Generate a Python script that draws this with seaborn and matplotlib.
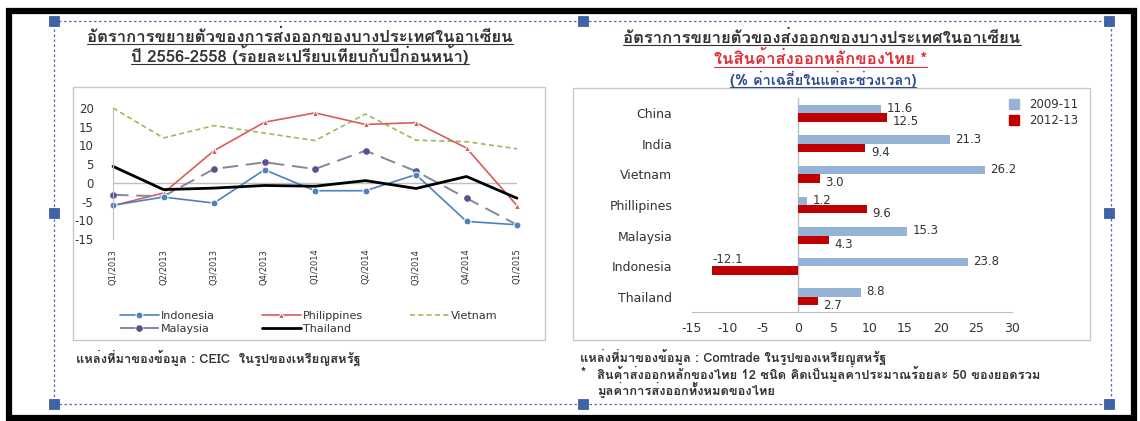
import matplotlib
matplotlib.use("Agg")
import matplotlib.pyplot as plt
from matplotlib import font_manager
from matplotlib.ft2font import FT2Font
from matplotlib.patches import Rectangle
from matplotlib.lines import Line2D
import seaborn as sns
import pandas as pd

# -----------------------------
# Data
# -----------------------------
quarters = ["Q1/2013", "Q2/2013", "Q3/2013", "Q4/2013", "Q1/2014",
            "Q2/2014", "Q3/2014", "Q4/2014", "Q1/2015"]
indonesia = [-6.0, -3.8, -5.4, 3.5, -2.1, -2.1, 2.2, -10.3, -11.2]
philippines = [-6.1, -2.7, 8.6, 16.2, 18.7, 15.6, 16.1, 9.3, -6.1]
vietnam = [20.0, 12.0, 15.3, 13.3, 11.3, 18.4, 11.4, 11.0, 9.1]
malaysia = [-3.2, -3.6, 3.7, 5.5, 3.7, 8.6, 3.1, -4.1, -11.2]
thailand = [4.4, -1.8, -1.4, -0.7, -0.9, 0.6, -1.5, 1.7, -4.1]

countries = ["China", "India", "Vietnam", "Phillipines", "Malaysia", "Indonesia", "Thailand"]
growth_0911 = [11.6, 21.3, 26.2, 1.2, 15.3, 23.8, 8.8]
growth_1213 = [12.5, 9.4, 3.0, 9.6, 4.3, -12.1, 2.7]
periods = ["2009-11", "2012-13"]

# -----------------------------
# Find a font that can draw Thai
# -----------------------------
def find_thai_font():
    for f in font_manager.fontManager.ttflist:
        try:
            if 0x0E2D in FT2Font(f.fname).get_charmap():
                return f.name
        except Exception:
            pass
    return None

thai = find_thai_font()
thai_family = [thai, "DejaVu Sans"] if thai else ["DejaVu Sans"]

sns.set_style("white")
plt.rcParams["font.family"] = ["DejaVu Sans"]
plt.rcParams["axes.unicode_minus"] = False

W, H = 1140, 421
fig = plt.figure(figsize=(W / 100, H / 100), dpi=100)
fig.patch.set_facecolor("white")

def fx(px):
    return px / W

def fy(py):
    return 1 - py / H

def box(x0, y0, x1, y1, **kw):
    fig.add_artist(Rectangle((fx(x0), fy(y1)), fx(x1) - fx(x0), fy(y0) - fy(y1),
                             transform=fig.transFigure, **kw))

# frame, dashed selection box, chart boxes
box(9, 11, 1134, 418, fill=False, edgecolor="black", linewidth=4.5)
box(54, 21, 1111, 404, fill=False, edgecolor="#4F6FB0", linewidth=0.9, linestyle=(0, (2, 2)))
box(73, 87, 545, 340, fill=False, edgecolor="#C8C8C8", linewidth=1.0)
box(573, 88, 1090, 340, fill=False, edgecolor="#C8C8C8", linewidth=1.0)
for hx, hy in [(54, 21), (583, 21), (1109, 21), (54, 213), (1109, 213),
               (54, 404), (583, 404), (1109, 404)]:
    box(hx - 5, hy - 5, hx + 5, hy + 5, facecolor="#3F63A8", edgecolor="#2F4F90", linewidth=0.5)

text_col = "#333333"

# -----------------------------
# Left: line chart
# -----------------------------
axl = fig.add_axes([fx(113), fy(239), fx(517) - fx(113), fy(108) - fy(239)])
df_line = pd.DataFrame({"quarter": quarters, "Indonesia": indonesia, "Philippines": philippines,
                        "Vietnam": vietnam, "Malaysia": malaysia, "Thailand": thailand})
df_line["pos"] = range(len(quarters))

styles = {
    "Indonesia": dict(color="#4F81BD", marker="o", markersize=5, linewidth=1.2, linestyle="-"),
    "Philippines": dict(color="#D95B5B", marker="^", markersize=4, linewidth=1.2, linestyle="-"),
    "Vietnam": dict(color="#9BBB59", marker=None, linewidth=1.2, linestyle=(0, (3, 2))),
    "Malaysia": dict(color="#8585A0", marker="o", markersize=4, markerfacecolor="#5E4F93",
                     markeredgecolor="#5E4F93", linewidth=1.4, linestyle=(0, (8, 4))),
    "Thailand": dict(color="black", marker=None, linewidth=2.0, linestyle="-"),
}
for name in ["Vietnam", "Philippines", "Malaysia", "Indonesia", "Thailand"]:
    sns.lineplot(data=df_line, x="pos", y=name, ax=axl, label=name, clip_on=False, **styles[name])

axl.axhline(0, color="#BFBFBF", linewidth=1.0, zorder=0)
axl.set_xlim(0, len(quarters) - 1)
axl.set_ylim(-15, 20)
axl.set_yticks(range(-15, 21, 5))
axl.set_xticks(df_line["pos"])
axl.set_xticklabels(quarters, rotation=90, fontsize=6, color=text_col)
axl.tick_params(axis="y", labelsize=8.5, labelcolor=text_col, length=3, color="#BFBFBF", pad=11)
axl.tick_params(axis="x", length=0, pad=7)
axl.set_xlabel("")
axl.set_ylabel("")
for s in ["top", "right", "bottom"]:
    axl.spines[s].set_visible(False)
axl.spines["left"].set_color("#BFBFBF")
axl.patch.set_alpha(0)
handles, labels = axl.get_legend_handles_labels()
hmap = dict(zip(labels, handles))
order = ["Indonesia", "Malaysia", "Philippines", "Thailand", "Vietnam"]
axl.get_legend().remove()
fig.legend([hmap[o] for o in order], order, loc="upper left", bbox_to_anchor=(fx(110), fy(301)),
           ncol=3, frameon=False, fontsize=8, handlelength=3.5, handletextpad=0.2,
           columnspacing=4.2, labelspacing=0.3, labelcolor=text_col)

# -----------------------------
# Right: horizontal bar chart
# -----------------------------
axr = fig.add_axes([fx(691.7), fy(312), fx(1011.7) - fx(691.7), fy(98) - fy(312)])
df_bar = pd.DataFrame({
    "country": countries * 2,
    "value": growth_0911 + growth_1213,
    "period": [periods[0]] * len(countries) + [periods[1]] * len(countries),
})
sns.barplot(data=df_bar, y="country", x="value", hue="period", orient="h", ax=axr,
            palette={"2009-11": "#95B3D7", "2012-13": "#C00000"}, width=0.55,
            saturation=1, edgecolor="none")
axr.set_xlim(-15, 30)
axr.set_xticks(range(-15, 31, 5))
axr.axvline(0, color="#BFBFBF", linewidth=1.0, zorder=0)
axr.tick_params(axis="x", labelsize=9, labelcolor=text_col, length=3, color="#BFBFBF", pad=4)
axr.tick_params(axis="y", labelsize=9, labelcolor=text_col, length=0, pad=14)
axr.set_xlabel("")
axr.set_ylabel("")
for s in ["top", "right", "left"]:
    axr.spines[s].set_visible(False)
axr.spines["bottom"].set_color("#BFBFBF")
axr.patch.set_alpha(0)

off = 0.55 / 4
for i, (a, b) in enumerate(zip(growth_0911, growth_1213)):
    axr.text(a + 0.8, i - off - 0.02, f"{a:.1f}", fontsize=8.5, color=text_col, va="center")
    if b >= 0:
        axr.text(b + 0.8, i + off + 0.14, f"{b:.1f}", fontsize=8.5, color=text_col, va="center")
    else:
        axr.text(b, i - off - 0.08, f"{b:.1f}", fontsize=8.5, color=text_col, va="center", ha="left")

axr.get_legend().remove()
lh = [Line2D([], [], marker="s", linestyle="none", markersize=7, color=c)
      for c in ["#95B3D7", "#C00000"]]
fig.legend(lh, periods, loc="upper left", bbox_to_anchor=(fx(994), fy(90)), frameon=False,
           fontsize=8.5, handletextpad=0.3, labelspacing=0.25, borderpad=0.2, labelcolor=text_col)

# -----------------------------
# Titles and notes (Thai)
# -----------------------------
titles = []
titles.append(fig.text(fx(300), fy(37), "อัตราการขยายตัวของการส่งออกของบางประเทศในอาเซียน",
                       family=thai_family, fontsize=12, weight="bold", color=text_col,
                       ha="center", va="center"))
titles.append(fig.text(fx(300), fy(55), "ปี 2556-2558 (ร้อยละเปรียบเทียบกับปีก่อนหน้า)",
                       family=thai_family, fontsize=12, weight="bold", color=text_col,
                       ha="center", va="center"))
titles.append(fig.text(fx(822), fy(38), "อัตราการขยายตัวของส่งออกของบางประเทศในอาเซียน",
                       family=thai_family, fontsize=12, weight="bold", color=text_col,
                       ha="center", va="center"))
titles.append(fig.text(fx(820), fy(59), "ในสินค้าส่งออกหลักของไทย *",
                       family=thai_family, fontsize=12, weight="bold", color="#E0303A",
                       ha="center", va="center"))
titles.append(fig.text(fx(823), fy(79), "(% ค่าเฉลี่ยในแต่ละช่วงเวลา)",
                       family=thai_family, fontsize=10.5, weight="bold", color="#2F4C8C",
                       ha="center", va="center"))

fig.text(fx(76), fy(358), "แหล่งที่มาของข้อมูล : CEIC  ในรูปของเหรียญสหรัฐ",
         family=thai_family, fontsize=9.3, weight="bold", color=text_col, va="center")
fig.text(fx(580), fy(357), "แหล่งที่มาของข้อมูล : Comtrade ในรูปของเหรียญสหรัฐ",
         family=thai_family, fontsize=9.3, weight="bold", color=text_col, va="center")
fig.text(fx(581), fy(373), "*", family=thai_family, fontsize=9.3, weight="bold", color=text_col, va="center")
fig.text(fx(597), fy(373), "สินค้าส่งออกหลักของไทย 12 ชนิด คิดเป็นมูลค่าประมาณร้อยละ 50 ของยอดรวม",
         family=thai_family, fontsize=9.3, weight="bold", color=text_col, va="center")
fig.text(fx(597), fy(389), "มูลค่าการส่งออกทั้งหมดของไทย",
         family=thai_family, fontsize=9.3, weight="bold", color=text_col, va="center")

# underline the titles
fig.canvas.draw()
renderer = fig.canvas.get_renderer()
for t in titles:
    bb = t.get_window_extent(renderer)
    yline = (bb.y0 + 1) / H
    fig.add_artist(Line2D([bb.x0 / W, bb.x1 / W], [yline, yline], transform=fig.transFigure,
                          color=t.get_color(), linewidth=0.8))

fig.savefig("out.png", dpi=100)
